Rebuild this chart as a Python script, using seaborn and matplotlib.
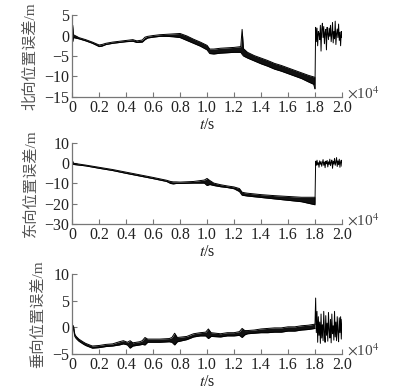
import matplotlib
matplotlib.use("Agg")
import matplotlib.pyplot as plt
import seaborn as sns

# time axis in units of 1e4 s
north_t = [0.00, 0.005, 0.01, 0.05, 0.10, 0.15, 0.20, 0.22, 0.25, 0.30, 0.35, 0.40, 0.45, 0.48,
           0.52, 0.54, 0.56, 0.60, 0.65, 0.70, 0.75, 0.80, 0.85, 0.90, 0.95, 1.00, 1.02, 1.05,
           1.10, 1.15, 1.20, 1.25, 1.26, 1.27, 1.30, 1.35, 1.40, 1.45, 1.50, 1.55, 1.60, 1.65,
           1.70, 1.75, 1.79, 1.80]
north_lo = [-0.2, -1.5, -0.5, -0.8, -1.3, -1.9, -2.7, -2.6, -2.2, -1.9, -1.7, -1.5, -1.4, -1.7,
            -1.6, -1.0, -0.6, -0.4, -0.2, -0.2, -0.3, -0.5, -1.2, -1.9, -2.6, -3.5, -4.4, -4.5,
            -4.3, -4.2, -4.1, -4.1, -4.6, -5.0, -5.5, -6.2, -6.9, -7.5, -8.2, -8.7, -9.3, -9.9,
            -10.5, -11.3, -11.9, -13.0]
north_hi = [0.2, 2.5, 0.2, -0.5, -1.0, -1.6, -2.3, -2.2, -1.9, -1.6, -1.4, -1.2, -1.0, -1.3,
            -1.1, -0.4, -0.2, 0.0, 0.2, 0.3, 0.4, 0.5, -0.1, -0.9, -1.6, -2.4, -3.3, -3.3,
            -3.1, -3.0, -2.9, -2.7, 1.5, -3.2, -4.1, -4.9, -5.5, -6.1, -6.8, -7.3, -7.9, -8.5,
            -9.1, -9.7, -10.1, -10.2]

east_t = [0.00, 0.005, 0.01, 0.10, 0.20, 0.30, 0.40, 0.50, 0.60, 0.70, 0.73, 0.75, 0.77, 0.80,
          0.90, 0.98, 1.00, 1.02, 1.05, 1.10, 1.15, 1.20, 1.24, 1.26, 1.28, 1.30, 1.40, 1.50,
          1.60, 1.70, 1.80]
east_lo = [-0.5, -0.5, -0.6, -1.3, -2.5, -3.6, -5.0, -6.3, -7.6, -9.0, -10.0, -10.2, -10.0, -10.0,
           -9.8, -9.8, -11.0, -10.5, -11.0, -11.6, -12.0, -12.6, -14.0, -15.8, -16.0, -16.2, -16.9,
           -17.6, -18.3, -19.0, -20.5]
east_hi = [0.3, 1.0, 0.0, -0.9, -2.0, -3.1, -4.4, -5.7, -7.0, -8.4, -9.0, -9.2, -9.2, -9.3,
           -9.0, -8.3, -7.5, -8.5, -9.8, -10.6, -11.2, -11.7, -12.5, -14.3, -14.6, -14.8, -15.5,
           -16.0, -16.4, -16.8, -16.8]

vert_t = [0.00, 0.01, 0.02, 0.03, 0.05, 0.08, 0.10, 0.15, 0.20, 0.25, 0.30, 0.35, 0.38, 0.41,
          0.43, 0.45, 0.50, 0.52, 0.54, 0.56, 0.65, 0.72, 0.74, 0.76, 0.78, 0.85, 0.90,
          0.95, 0.99, 1.01, 1.03, 1.10, 1.15, 1.20, 1.24, 1.26, 1.28, 1.30, 1.35, 1.40, 1.45,
          1.50, 1.55, 1.60, 1.65, 1.70, 1.75, 1.80]
vert_lo = [-0.2, -0.3, -1.7, -2.1, -2.6, -3.1, -3.4, -3.9, -3.8, -3.6, -3.5, -3.3, -3.1, -3.3,
           -3.9, -3.5, -3.3, -3.2, -3.3, -2.8, -2.8, -2.7, -2.8, -3.3, -2.7, -2.3, -1.8,
           -1.6, -1.6, -2.1, -1.7, -1.8, -1.6, -1.6, -1.5, -1.9, -1.4, -1.2, -1.1, -1.0, -1.0,
           -0.9, -0.9, -0.7, -0.7, -0.5, -0.4, -0.2]
vert_hi = [0.3, 0.3, -1.3, -1.7, -2.2, -2.7, -3.0, -3.5, -3.4, -3.2, -3.1, -2.7, -2.5, -2.8,
           -2.5, -2.9, -2.7, -2.5, -1.9, -2.2, -2.2, -2.1, -1.9, -1.1, -1.9, -1.7, -1.2,
           -1.0, -0.9, -0.3, -1.0, -1.2, -1.0, -1.0, -0.8, -0.2, -0.6, -0.6, -0.5, -0.3, -0.2,
           -0.1, -0.1, 0.1, 0.1, 0.3, 0.4, 0.6]

# last segment after 1.8e4 s (noisy part)
tail_t = [1.800, 1.805, 1.810, 1.815, 1.820, 1.825, 1.830, 1.835, 1.840, 1.845,
          1.850, 1.855, 1.860, 1.865, 1.870, 1.875, 1.880, 1.885, 1.890, 1.895,
          1.900, 1.905, 1.910, 1.915, 1.920, 1.925, 1.930, 1.935, 1.940, 1.945,
          1.950, 1.955, 1.960, 1.965, 1.970, 1.975, 1.980, 1.985, 1.990, 1.995,
          2.000]
north_tail = [-13.0, 2.0, -1.5, 1.8, -2.5, 1.0, 0.5, -1.0, 2.5, -3.8,
              1.5, 3.0, -0.5, 2.2, -2.0, 0.8, 1.5, -3.5, 2.0, 0.5,
              -1.0, 1.8, -0.2, 2.5, -1.5, 0.3, 3.2, -1.8, 1.0, -0.8,
              3.5, -2.2, 0.5, 1.6, -0.5, 2.8, -1.2, 0.8, -2.5, 1.0,
              -0.5]
east_tail = [-20.0, 1.0, -1.0, 1.5, -0.8, 0.3, -2.0, 1.2, -0.5, 0.8,
             -1.5, 0.2, 1.8, -1.0, 0.6, -2.2, 1.0, -0.3, 1.4, -1.8,
             0.7, -0.6, 2.0, -1.2, 0.4, 1.6, -2.5, 0.9, -0.4, 2.4,
             -1.0, 0.5, 2.8, -1.6, 1.2, -0.7, 2.0, -2.0, 0.6, 1.5,
             -1.5]
vert_tail = [0.5, 5.5, -1.0, 3.0, -2.8, 2.0, -1.5, 1.0, -3.0, 2.5,
             -2.0, 0.5, -2.5, 3.0, -1.0, -2.8, 2.2, -1.5, 0.8, -2.6,
             2.8, -0.5, -2.0, 1.5, -2.9, 2.5, -1.2, 0.3, -2.4, 3.0,
             -1.8, 1.0, -2.5, 2.0, -0.8, -2.7, 1.8, -1.0, 2.0, -2.2,
             1.5]

ylabels = ["北向位置误差/m", "东向位置误差/m", "垂向位置误差/m"]
ylims = [(-15, 5), (-30, 10), (-5, 10)]
yticks = [[-15, -10, -5, 0, 5], [-30, -20, -10, 0, 10], [-5, 0, 5, 10]]
xticks = [0, 0.2, 0.4, 0.6, 0.8, 1.0, 1.2, 1.4, 1.6, 1.8, 2.0]

sns.set_style("ticks")
plt.rcParams["font.family"] = ["Liberation Serif", "Noto Sans CJK SC"]
plt.rcParams["mathtext.fontset"] = "stix"
plt.rcParams["axes.unicode_minus"] = True

fig = plt.figure(figsize=(4.12, 3.92), dpi=100)
boxes = [[0.175, 0.7526, 0.655, 0.209],
         [0.175, 0.4286, 0.655, 0.2066],
         [0.175, 0.0969, 0.655, 0.204]]

panels = [(north_t, north_lo, north_hi, north_tail),
          (east_t, east_lo, east_hi, east_tail),
          (vert_t, vert_lo, vert_hi, vert_tail)]

for i, (t, lo, hi, tail) in enumerate(panels):
    ax = fig.add_axes(boxes[i])
    ax.fill_between(t, lo, hi, color="#111111", linewidth=0)
    sns.lineplot(x=t, y=lo, ax=ax, color="black", linewidth=0.7, sort=False)
    sns.lineplot(x=t, y=hi, ax=ax, color="black", linewidth=0.7, sort=False)
    sns.lineplot(x=tail_t, y=tail, ax=ax, color="black", linewidth=0.7, sort=False)

    ax.set_xlim(0, 2.0)
    ax.set_ylim(*ylims[i])
    ax.set_xticks(xticks)
    ax.set_xticklabels(["0"] + [f"{v:.1f}" for v in xticks[1:]])
    ax.set_yticks(yticks[i])
    ax.tick_params(direction="in", length=3.5, width=0.8, color="#777777",
                   labelsize=11.5, labelcolor="#222222", pad=2)
    sns.despine(ax=ax)
    for s in ["left", "bottom"]:
        ax.spines[s].set_color("#777777")
        ax.spines[s].set_linewidth(0.9)

    ax.set_ylabel(ylabels[i], fontsize=11, color="#555555", labelpad=5)
    ax.set_xlabel("$t$/s", fontsize=11.5, color="#222222", labelpad=1)
    ax.text(1.02, 0.04, r"$\times$10$^4$", transform=ax.transAxes, fontsize=11,
            color="#444444", va="center", ha="left")

fig.savefig("out.png", dpi=100)
